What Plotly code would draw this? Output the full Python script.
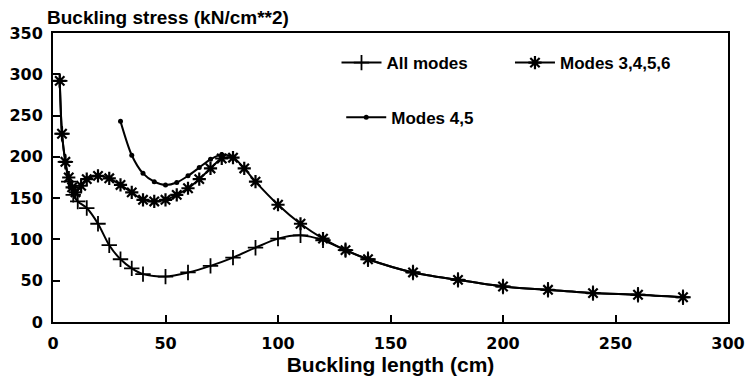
import plotly.graph_objects as go

# Data
all_x = [3, 4, 5.5, 7, 9, 11, 15, 20, 25, 30, 35, 40, 50, 60, 70, 80, 90, 100, 110, 120, 130, 140, 160, 180, 200, 220, 240, 260, 280]
all_y = [292, 228, 194, 170, 154, 146, 138, 119, 93, 76, 65, 58, 55, 60, 68, 78, 90, 101, 105, 99, 87, 76, 60, 51, 43, 39, 35, 33, 30]

m3456_x = [3, 4, 5.5, 7, 8.5, 10, 12.5, 15, 20, 25, 30, 35, 40, 45, 50, 55, 60, 65, 70, 75, 80, 85, 90, 100, 110, 120, 130, 140, 160, 180, 200, 220, 240, 260, 280]
m3456_y = [292, 228, 194, 175, 163, 157, 165, 173, 177, 174, 166, 157, 148, 146, 148, 154, 162, 173, 186, 198, 199, 186, 170, 142, 119, 101, 87, 76, 60, 51, 43, 39, 35, 33, 30]

m45_x = [30, 35, 40, 45, 50, 55, 60, 65, 70, 75, 80]
m45_y = [243, 202, 180, 170, 166, 169, 177, 187, 197, 203, 200]

x_ticks = [0, 50, 100, 150, 200, 250, 300]
y_ticks = [0, 50, 100, 150, 200, 250, 300, 350]

FONT = "Liberation Sans, Arial, sans-serif"
TICKFONT = "DejaVu Sans, sans-serif"

fig = go.Figure()
fig.add_trace(go.Scatter(
    x=all_x, y=all_y, mode="lines+markers", name="All modes", legend="legend", showlegend=True,
    line=dict(color="black", width=2, shape="spline", smoothing=0.8),
    marker=dict(symbol="cross-thin", size=11, line=dict(color="black", width=1.8), color="black"),
))
fig.add_trace(go.Scatter(
    x=m3456_x, y=m3456_y, mode="lines+markers", name="Modes 3,4,5,6", legend="legend2", showlegend=True,
    line=dict(color="black", width=2, shape="spline", smoothing=0.8),
    marker=dict(symbol="asterisk-open", size=11, line=dict(color="black", width=2.2), color="black"),
))
fig.add_trace(go.Scatter(
    x=m45_x, y=m45_y, mode="lines+markers", name="Modes 4,5", legend="legend3", showlegend=True,
    line=dict(color="black", width=2, shape="spline", smoothing=0.8),
    marker=dict(symbol="circle", size=5, color="black"),
))

legend_common = dict(
    font=dict(family=FONT, size=17, color="black", weight="bold"),
    bgcolor="rgba(0,0,0,0)", borderwidth=0, itemwidth=40,
    xanchor="left", yanchor="middle", orientation="v",
)

fig.update_layout(
    width=751, height=382, showlegend=True,
    margin=dict(l=53, r=23, t=33, b=60, autoexpand=False),
    paper_bgcolor="white", plot_bgcolor="white",
    legend=dict(x=0.42, y=0.896, **legend_common),
    legend2=dict(x=0.677, y=0.896, **legend_common),
    legend3=dict(x=0.427, y=0.707, **legend_common),
    xaxis=dict(
        range=[0, 300], tickvals=x_ticks, ticktext=[str(v) for v in x_ticks],
        showline=True, linecolor="black", linewidth=2, mirror=True,
        ticks="inside", ticklen=7, tickwidth=1.5, tickcolor="black",
        showgrid=False, zeroline=False, automargin=False,
        tickfont=dict(family=TICKFONT, size=16, color="black", weight="bold"),
        ticklabelstandoff=6,
        title=dict(text="Buckling length (cm)", standoff=4,
                   font=dict(family=FONT, size=21, color="black", weight="bold")),
    ),
    yaxis=dict(
        range=[0, 350], tickvals=y_ticks, ticktext=[str(v) for v in y_ticks],
        showline=True, linecolor="black", linewidth=2, mirror=True,
        ticks="inside", ticklen=7, tickwidth=1.5, tickcolor="black",
        showgrid=False, zeroline=False, automargin=False,
        tickfont=dict(family=TICKFONT, size=16, color="black", weight="bold"),
        ticklabelstandoff=5,
    ),
    annotations=[dict(
        text="Buckling stress (kN/cm**2)", xref="paper", yref="paper",
        x=-0.012, y=1.055, xanchor="left", yanchor="middle", showarrow=False,
        font=dict(family=FONT, size=19, color="black", weight="bold"),
    )],
)

fig.write_html("out.html", config={"displayModeBar": False},
               post_script="document.body.style.margin='0';")
